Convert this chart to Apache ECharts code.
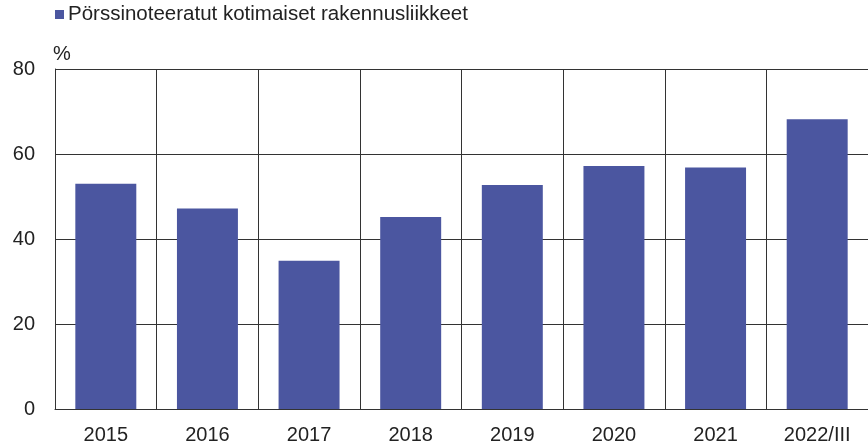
<!DOCTYPE html>
<html>
<head>
<meta charset="utf-8">
<script src="https://cdn.jsdelivr.net/npm/echarts@6/dist/echarts.min.js"></script>
<style>
  html, body { margin: 0; padding: 0; background: #fff; }
  #chart { width: 868px; height: 447px; }
</style>
</head>
<body>
<div id="chart"></div>
<script>
// data
const years = ['2015', '2016', '2017', '2018', '2019', '2020', '2021', '2022/III']
const shares = [53.0, 47.2, 34.9, 45.2, 52.7, 57.2, 56.8, 68.2]
const seriesName = 'Pörssinoteeratut kotimaiset rakennusliikkeet'

let myChart = echarts.init(document.getElementById('chart'))
let font = 'Liberation Sans, Arial, sans-serif'
let option = {
  animation: false,
  textStyle: { fontFamily: font },
  legend: {
    left: 55,
    top: 4,
    padding: 0,
    icon: 'rect',
    itemWidth: 9,
    itemHeight: 9,
    itemGap: 4,
    textStyle: { fontSize: 20.5, color: '#222', fontFamily: font, padding: [0, 0, 0, -1] }
  },
  grid: {
    left: 55,
    right: 0,
    top: 69,
    bottom: 38
  },
  xAxis: {
    type: 'category',
    data: years,
    axisLine: { show: true, lineStyle: { color: '#333', width: 1 } },
    axisTick: { show: false },
    axisLabel: { color: '#222', fontSize: 20, margin: 16, fontFamily: font, interval: 0 },
    splitLine: { show: true, interval: 0, lineStyle: { color: '#333', width: 1 } }
  },
  yAxis: {
    type: 'value',
    min: 0,
    max: 80,
    interval: 20,
    name: '%',
    nameLocation: 'end',
    nameGap: 5,
    nameTextStyle: { color: '#222', fontSize: 20, align: 'left', padding: [0, 0, 0, -2] },
    axisLine: { show: true, lineStyle: { color: '#333', width: 1 } },
    axisTick: { show: false },
    axisLabel: { color: '#222', fontSize: 20, margin: 20, fontFamily: font },
    splitLine: { show: true, lineStyle: { color: '#333', width: 1 } }
  },
  series: [{
    name: seriesName,
    type: 'bar',
    data: shares,
    barCategoryGap: '40%',
    itemStyle: { color: '#4b56a0' }
  }]
}
myChart.setOption(option)
</script>
</body>
</html>
